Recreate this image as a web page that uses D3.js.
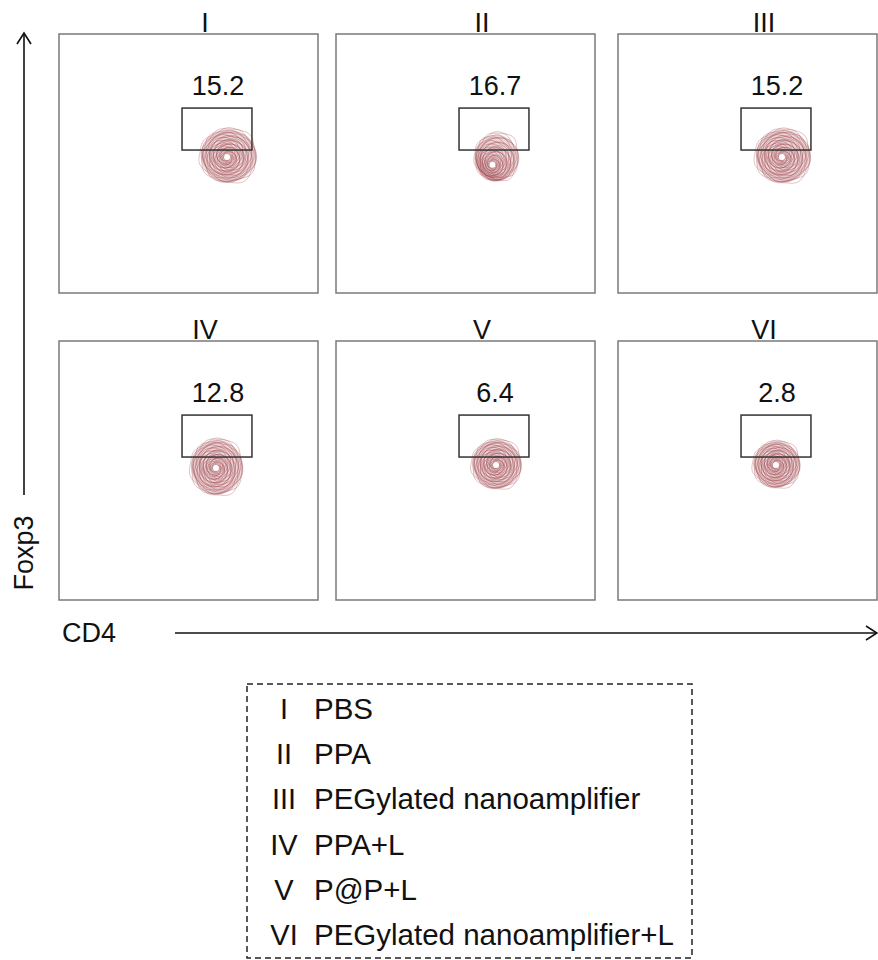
<!DOCTYPE html>
<html>
<head>
<meta charset="utf-8">
<script src="https://cdn.jsdelivr.net/npm/d3@7"></script>
<style>
  body { margin: 0; background: #fff; }
  svg { display: block; font-family: Arial, "Liberation Sans", sans-serif; }
</style>
</head>
<body>
<svg id="chart" width="878" height="960"></svg>
<script>
// groups and gate values
const groups = ["I", "II", "III", "IV", "V", "VI"];
const gatePct = ["15.2", "16.7", "15.2", "12.8", "6.4", "2.8"];
const treatments = ["PBS", "PPA", "PEGylated nanoamplifier", "PPA+L", "P@P+L", "PEGylated nanoamplifier+L"];
// gate, in axis units (0-1000)
const gateCD4 = [475, 745];
const gateFoxp3 = [552, 714];
// population centre / spread per group (axis units)
const popCD4 = [649, 604, 633, 606, 618, 610];
const popFoxp3 = [525, 495, 525, 510, 521, 521];
const spreadCD4 = [110, 86, 108, 102, 97, 92];
const spreadFoxp3 = [106, 94, 106, 110, 97, 92];
const tailCD4 = [6, 18, 5, 4, 3, 3];
const tailFoxp3 = [5, 32, 4, 3, 3, 2];

const svg = d3.select("#chart");
const pw = 259, ph = 259;
const colX = [59, 336, 618];
const rowY = [34, 341];
const x = d3.scaleLinear().domain([0, 1000]).range([0, pw]);
const y = d3.scaleLinear().domain([0, 1000]).range([ph, 0]);
const ringCol = "#9a4048";
const nRings = 26;
const fs = 27;

const line = d3.line().curve(d3.curveCardinalClosed.tension(0.2));

groups.forEach(function(g, i){
    const gx = colX[i % 3], gy = rowY[Math.floor(i / 3)];
    const p = svg.append("g").attr("transform", "translate(" + gx + "," + gy + ")");

    p.append("text").attr("x", 146).attr("y", -2)
        .attr("text-anchor", "middle").attr("font-size", fs).attr("fill", "#111").text(g);

    p.append("rect").attr("x", 0).attr("y", 0).attr("width", pw).attr("height", ph)
        .attr("fill", "none").attr("stroke", "#7a7a7a").attr("stroke-width", 1.5);

    // soft fill under the rings
    const blob = p.append("g");
    blob.append("ellipse")
        .attr("cx", x(popCD4[i] + tailCD4[i] * 0.8)).attr("cy", y(popFoxp3[i] + tailFoxp3[i] * 0.8))
        .attr("rx", x(spreadCD4[i] * 0.97) - x(0)).attr("ry", y(0) - y(spreadFoxp3[i] * 0.97))
        .attr("fill", "#dcb4b6").attr("opacity", 0.55);

    for (let r = 0; r < nRings; r++) {
        const f = 0.1 + 0.9 * (r / (nRings - 1));
        const cx = popCD4[i] + tailCD4[i] * f * f;
        const cy = popFoxp3[i] + tailFoxp3[i] * f * f;
        const pts = [];
        for (let k = 0; k < 40; k++) {
            const a = k / 40 * 2 * Math.PI;
            const w = 1 + 0.05 * Math.sin(3 * a + r * 1.7) + 0.035 * Math.cos(7 * a + r * 2.3);
            pts.push([
                x(cx + Math.cos(a) * spreadCD4[i] * f * w),
                y(cy + Math.sin(a) * spreadFoxp3[i] * f * w)
            ]);
        }
        blob.append("path").attr("d", line(pts))
            .attr("fill", "none").attr("stroke", ringCol)
            .attr("stroke-width", 0.7).attr("stroke-opacity", 0.45 + 0.3 * (1 - f));
    }
    blob.append("circle")
        .attr("cx", x(popCD4[i])).attr("cy", y(popFoxp3[i])).attr("r", 3).attr("fill", "#fff");

    p.append("rect")
        .attr("x", x(gateCD4[0])).attr("y", y(gateFoxp3[1]))
        .attr("width", x(gateCD4[1]) - x(gateCD4[0])).attr("height", y(gateFoxp3[0]) - y(gateFoxp3[1]))
        .attr("fill", "none").attr("stroke", "#333").attr("stroke-width", 1.5);

    p.append("text").attr("x", (x(gateCD4[0]) + x(gateCD4[1])) / 2 + 1).attr("y", y(gateFoxp3[1]) - 13)
        .attr("text-anchor", "middle").attr("font-size", fs).attr("fill", "#111").text(gatePct[i]);
});

// axis arrows
const ax = svg.append("g").attr("stroke", "#111").attr("stroke-width", 1.6).attr("fill", "none");
ax.append("line").attr("x1", 24).attr("y1", 495).attr("x2", 24).attr("y2", 34);
ax.append("path").attr("d", "M17,44 L24,33 L31,44");
ax.append("line").attr("x1", 175).attr("y1", 633).attr("x2", 876).attr("y2", 633);
ax.append("path").attr("d", "M866,626 L877,633 L866,640");

svg.append("text").attr("transform", "translate(33,553) rotate(-90)")
    .attr("text-anchor", "middle").attr("font-size", fs).attr("fill", "#111").text("Foxp3");
svg.append("text").attr("x", 62).attr("y", 642)
    .attr("font-size", fs).attr("fill", "#111").text("CD4");

// legend
const lg = svg.append("g");
lg.append("rect").attr("x", 247).attr("y", 684).attr("width", 445).attr("height", 274)
    .attr("fill", "none").attr("stroke", "#222").attr("stroke-width", 1.5).attr("stroke-dasharray", "6,4");
const ly = d3.scalePoint().domain(groups).range([719, 945]);
groups.forEach(function(g, i){
    lg.append("text").attr("x", 284).attr("y", ly(g)).attr("text-anchor", "middle")
        .attr("font-size", 29).attr("fill", "#111").text(g);
    lg.append("text").attr("x", 314).attr("y", ly(g))
        .attr("font-size", 29.5).attr("fill", "#111").text(treatments[i]);
});
</script>
</body>
</html>
